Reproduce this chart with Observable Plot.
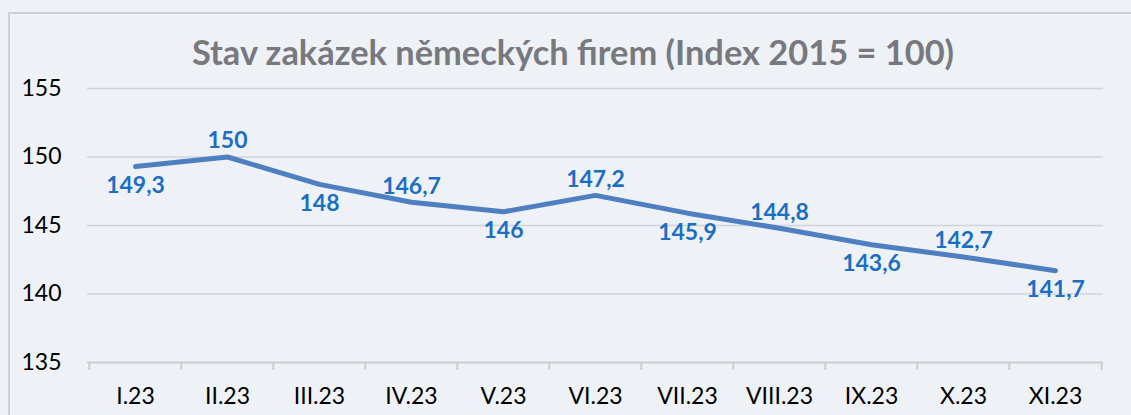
<!DOCTYPE html>
<html><head><meta charset="utf-8">
<script src="https://cdn.jsdelivr.net/npm/d3@7"></script>
<script src="https://cdn.jsdelivr.net/npm/@observablehq/plot@0.6"></script>
<style>
html,body{margin:0;padding:0;background:#eef2f6;overflow:hidden;}
#page{position:relative;width:1131px;height:415px;}
#frame{position:absolute;left:8px;top:12px;width:1200px;height:500px;border-top:2px solid #cdd1d5;border-left:2px solid #cdd1d5;}
#title{position:absolute;left:0;top:35px;width:1146px;text-align:center;font:700 34.4px Lato;color:#77797e;line-height:1;white-space:nowrap;}
#chart{position:absolute;left:0;top:76px;}
</style></head>
<body>
<div id="page">
  <div id="frame"></div>
  <div id="title">Stav zakázek německých firem (Index 2015 = 100)</div>
  <div id="chart"></div>
</div>
<script>
const months = ["I.23","II.23","III.23","IV.23","V.23","VI.23","VII.23","VIII.23","IX.23","X.23","XI.23"];
const values = [149.3,150,148,146.7,146,147.2,145.9,144.8,143.6,142.7,141.7];
const yTicks = [135,140,145,150,155];

const data = months.map((m,i)=>({i, month:m, value:values[i], label:String(values[i]).replace(".", ",")}));

const W = 1131, H = 339, ML = 87, MR = 28, MT = 12, MB = 53;
const bw = (W - ML - MR) / months.length;
const frameH = H - MT - MB;

const chart = Plot.plot({
  width: W, height: H,
  marginLeft: ML, marginRight: MR, marginTop: MT, marginBottom: MB,
  style: {background: "transparent", fontFamily: "Lato", fontSize: "23px", color: "#000", overflow: "visible"},
  x: {type: "band", domain: months, padding: 0, label: null},
  y: {domain: [135,155], label: null},
  marks: [
    Plot.ruleY(yTicks.slice(1), {stroke: "#d0d4d8", strokeWidth: 1.5}),
    Plot.ruleY([yTicks[0]], {stroke: "#c9cdd1", strokeWidth: 2}),
    Plot.ruleX(months, {x: d => d, dx: -bw/2, insetTop: frameH, insetBottom: -8, stroke: "#c9cdd1", strokeWidth: 2}),
    Plot.ruleX([months[months.length-1]], {x: d => d, dx: bw/2, insetTop: frameH, insetBottom: -8, stroke: "#c9cdd1", strokeWidth: 2}),
    Plot.axisY(yTicks, {tickSize: 0, tickPadding: 26, fontSize: 23, tickFormat: d => String(d)}),
    Plot.axisX({tickSize: 0, tickPadding: 25, fontSize: 23}),
    Plot.line(data, {x: "month", y: "value", stroke: "#4e7fc0", strokeWidth: 5, strokeLinecap: "round", strokeLinejoin: "round"}),
    Plot.text(data.filter(d => d.i % 2 === 0), {x: "month", y: "value", text: "label", dy: 19, fill: "#1c6ec2", fontWeight: "bold", fontSize: 23}),
    Plot.text(data.filter(d => d.i % 2 === 1), {x: "month", y: "value", text: "label", dy: -16, fill: "#1c6ec2", fontWeight: "bold", fontSize: 23})
  ]
});
document.getElementById("chart").appendChild(chart);
</script>
</body></html>
